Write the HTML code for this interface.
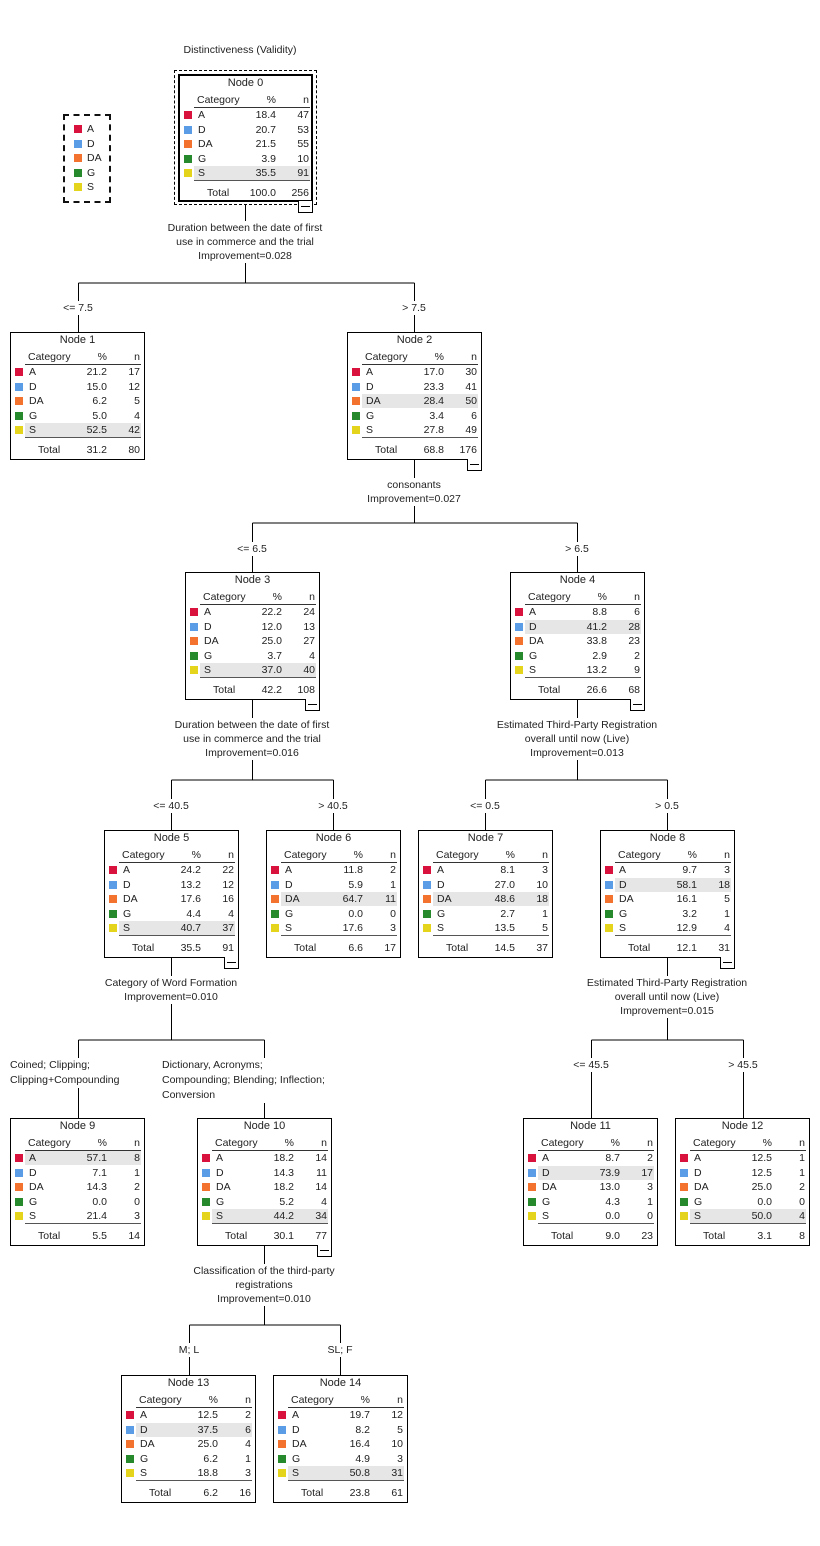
<!DOCTYPE html>
<html><head><meta charset="utf-8"><style>
body{margin:0;background:#fff;width:820px;height:1546px;position:relative;overflow:hidden;font-family:"Liberation Sans",sans-serif;font-size:10.5px;color:#222}
.n{position:absolute;width:135px;height:128px;box-sizing:border-box;border:1px solid #000;background:#fff}
.t{position:absolute;left:0;right:0;top:0;height:14px;line-height:14px;text-align:center;font-size:11px}
.h,.r,.tt{position:absolute;left:14px;width:116px;height:14px;line-height:14px}
.h{top:17px;border-bottom:1px solid #333}
.tt{top:104px;height:20px;line-height:24px;border-top:1px solid #555}
.r b,.h b,.tt b{position:absolute;left:4px;font-weight:normal}
.h b{left:3px}.tt b{left:13px}
.r s,.h s,.tt s{position:absolute;right:34px;text-decoration:none}
.r u,.h u,.tt u{position:absolute;right:1px;text-decoration:none}
.r i{position:absolute;left:-10px;top:3px;width:8px;height:8px}
.hl{background:#e6e6e6}
.r1{top:32px}.r2{top:46.5px}.r3{top:61px}.r4{top:75.5px}.r5{top:90px}
.cA{background:#d8123c}.cD{background:#5a9de6}.cDA{background:#f2722e}.cG{background:#268a2c}.cS{background:#e4d41c}
.m{position:absolute;width:13px;height:11px;border:1px solid #000;border-top:none;background:#fff}
.m:after{content:"";position:absolute;left:2px;right:2px;top:5px;border-top:1px solid #000}
.l{position:absolute;white-space:nowrap;background:#fff;line-height:14px;transform:translateX(-50%);text-align:center}
.la{position:absolute;white-space:nowrap;background:#fff;line-height:15px}
.lg{position:absolute;left:63px;top:114px;width:48px;height:89px;box-sizing:border-box;border:2px dashed #111}
.lg div{position:absolute;left:22px;line-height:14px}
.lg i{position:absolute;left:-13px;top:3px;width:8px;height:8px}
</style></head><body>
<svg width="820" height="1546" style="position:absolute;left:0;top:0" stroke="#000" stroke-width="1" fill="none" shape-rendering="crispEdges">
<path d="M245.5 204V283M78.5 283H414.5M78.5 283V332M414.5 283V332"/>
<path d="M414.5 459V523M252.5 523H577.5M252.5 523V572M577.5 523V572"/>
<path d="M252.5 699V780M171.5 780H333.5M171.5 780V830M333.5 780V830"/>
<path d="M577.5 699V780M485.5 780H667.5M485.5 780V830M667.5 780V830"/>
<path d="M171.5 957V1040M78.5 1040H264.5M78.5 1040V1118M264.5 1040V1118"/>
<path d="M667.5 957V1040M591.5 1040H743.5M591.5 1040V1118M743.5 1040V1118"/>
<path d="M264.5 1245V1325M189.5 1325H340.5M189.5 1325V1375M340.5 1325V1375"/>
</svg>
<div class="l" style="left:240px;top:43px">Distinctiveness (Validity)</div>
<div class="lg"><div style="top:6px"><i class="cA"></i>A</div><div style="top:21px"><i class="cD"></i>D</div><div style="top:35px"><i class="cDA"></i>DA</div><div style="top:50px"><i class="cG"></i>G</div><div style="top:64px"><i class="cS"></i>S</div></div>
<div style="position:absolute;left:174px;top:70px;width:143px;height:135px;box-sizing:border-box;border:1px dashed #000"></div>

<div class="n" style="left:178px;top:74px;border:2px solid #000"><div class="t">Node 0</div><div class="h"><b>Category</b><s>%</s><u>n</u></div>
<div class="r r1"><i class="cA"></i><b>A</b><s>18.4</s><u>47</u></div><div class="r r2"><i class="cD"></i><b>D</b><s>20.7</s><u>53</u></div><div class="r r3"><i class="cDA"></i><b>DA</b><s>21.5</s><u>55</u></div><div class="r r4"><i class="cG"></i><b>G</b><s>3.9</s><u>10</u></div><div class="r r5 hl"><i class="cS"></i><b>S</b><s>35.5</s><u>91</u></div><div class="tt"><b>Total</b><s>100.0</s><u>256</u></div></div>
<div class="m" style="left:298px;top:201px"></div>
<div class="l" style="left:245px;top:221px">Duration between the date of first<br>use in commerce and the trial<br>Improvement=0.028</div>
<div class="l" style="left:78px;top:301px">&lt;= 7.5</div><div class="l" style="left:414px;top:301px">&gt; 7.5</div>

<div class="n" style="left:10px;top:332px"><div class="t">Node 1</div><div class="h"><b>Category</b><s>%</s><u>n</u></div>
<div class="r r1"><i class="cA"></i><b>A</b><s>21.2</s><u>17</u></div><div class="r r2"><i class="cD"></i><b>D</b><s>15.0</s><u>12</u></div><div class="r r3"><i class="cDA"></i><b>DA</b><s>6.2</s><u>5</u></div><div class="r r4"><i class="cG"></i><b>G</b><s>5.0</s><u>4</u></div><div class="r r5 hl"><i class="cS"></i><b>S</b><s>52.5</s><u>42</u></div><div class="tt"><b>Total</b><s>31.2</s><u>80</u></div></div>

<div class="n" style="left:347px;top:332px"><div class="t">Node 2</div><div class="h"><b>Category</b><s>%</s><u>n</u></div>
<div class="r r1"><i class="cA"></i><b>A</b><s>17.0</s><u>30</u></div><div class="r r2"><i class="cD"></i><b>D</b><s>23.3</s><u>41</u></div><div class="r r3 hl"><i class="cDA"></i><b>DA</b><s>28.4</s><u>50</u></div><div class="r r4"><i class="cG"></i><b>G</b><s>3.4</s><u>6</u></div><div class="r r5"><i class="cS"></i><b>S</b><s>27.8</s><u>49</u></div><div class="tt"><b>Total</b><s>68.8</s><u>176</u></div></div>
<div class="m" style="left:467px;top:459px"></div>
<div class="l" style="left:414px;top:478px">consonants<br>Improvement=0.027</div>
<div class="l" style="left:252px;top:542px">&lt;= 6.5</div><div class="l" style="left:577px;top:542px">&gt; 6.5</div>

<div class="n" style="left:185px;top:572px"><div class="t">Node 3</div><div class="h"><b>Category</b><s>%</s><u>n</u></div>
<div class="r r1"><i class="cA"></i><b>A</b><s>22.2</s><u>24</u></div><div class="r r2"><i class="cD"></i><b>D</b><s>12.0</s><u>13</u></div><div class="r r3"><i class="cDA"></i><b>DA</b><s>25.0</s><u>27</u></div><div class="r r4"><i class="cG"></i><b>G</b><s>3.7</s><u>4</u></div><div class="r r5 hl"><i class="cS"></i><b>S</b><s>37.0</s><u>40</u></div><div class="tt"><b>Total</b><s>42.2</s><u>108</u></div></div>
<div class="m" style="left:305px;top:699px"></div>
<div class="l" style="left:252px;top:718px">Duration between the date of first<br>use in commerce and the trial<br>Improvement=0.016</div>

<div class="n" style="left:510px;top:572px"><div class="t">Node 4</div><div class="h"><b>Category</b><s>%</s><u>n</u></div>
<div class="r r1"><i class="cA"></i><b>A</b><s>8.8</s><u>6</u></div><div class="r r2 hl"><i class="cD"></i><b>D</b><s>41.2</s><u>28</u></div><div class="r r3"><i class="cDA"></i><b>DA</b><s>33.8</s><u>23</u></div><div class="r r4"><i class="cG"></i><b>G</b><s>2.9</s><u>2</u></div><div class="r r5"><i class="cS"></i><b>S</b><s>13.2</s><u>9</u></div><div class="tt"><b>Total</b><s>26.6</s><u>68</u></div></div>
<div class="m" style="left:630px;top:699px"></div>
<div class="l" style="left:577px;top:718px">Estimated Third-Party Registration<br>overall until now (Live)<br>Improvement=0.013</div>
<div class="l" style="left:171px;top:799px">&lt;= 40.5</div><div class="l" style="left:333px;top:799px">&gt; 40.5</div>
<div class="l" style="left:485px;top:799px">&lt;= 0.5</div><div class="l" style="left:667px;top:799px">&gt; 0.5</div>

<div class="n" style="left:104px;top:830px"><div class="t">Node 5</div><div class="h"><b>Category</b><s>%</s><u>n</u></div>
<div class="r r1"><i class="cA"></i><b>A</b><s>24.2</s><u>22</u></div><div class="r r2"><i class="cD"></i><b>D</b><s>13.2</s><u>12</u></div><div class="r r3"><i class="cDA"></i><b>DA</b><s>17.6</s><u>16</u></div><div class="r r4"><i class="cG"></i><b>G</b><s>4.4</s><u>4</u></div><div class="r r5 hl"><i class="cS"></i><b>S</b><s>40.7</s><u>37</u></div><div class="tt"><b>Total</b><s>35.5</s><u>91</u></div></div>
<div class="m" style="left:224px;top:957px"></div>

<div class="n" style="left:266px;top:830px"><div class="t">Node 6</div><div class="h"><b>Category</b><s>%</s><u>n</u></div>
<div class="r r1"><i class="cA"></i><b>A</b><s>11.8</s><u>2</u></div><div class="r r2"><i class="cD"></i><b>D</b><s>5.9</s><u>1</u></div><div class="r r3 hl"><i class="cDA"></i><b>DA</b><s>64.7</s><u>11</u></div><div class="r r4"><i class="cG"></i><b>G</b><s>0.0</s><u>0</u></div><div class="r r5"><i class="cS"></i><b>S</b><s>17.6</s><u>3</u></div><div class="tt"><b>Total</b><s>6.6</s><u>17</u></div></div>

<div class="n" style="left:418px;top:830px"><div class="t">Node 7</div><div class="h"><b>Category</b><s>%</s><u>n</u></div>
<div class="r r1"><i class="cA"></i><b>A</b><s>8.1</s><u>3</u></div><div class="r r2"><i class="cD"></i><b>D</b><s>27.0</s><u>10</u></div><div class="r r3 hl"><i class="cDA"></i><b>DA</b><s>48.6</s><u>18</u></div><div class="r r4"><i class="cG"></i><b>G</b><s>2.7</s><u>1</u></div><div class="r r5"><i class="cS"></i><b>S</b><s>13.5</s><u>5</u></div><div class="tt"><b>Total</b><s>14.5</s><u>37</u></div></div>

<div class="n" style="left:600px;top:830px"><div class="t">Node 8</div><div class="h"><b>Category</b><s>%</s><u>n</u></div>
<div class="r r1"><i class="cA"></i><b>A</b><s>9.7</s><u>3</u></div><div class="r r2 hl"><i class="cD"></i><b>D</b><s>58.1</s><u>18</u></div><div class="r r3"><i class="cDA"></i><b>DA</b><s>16.1</s><u>5</u></div><div class="r r4"><i class="cG"></i><b>G</b><s>3.2</s><u>1</u></div><div class="r r5"><i class="cS"></i><b>S</b><s>12.9</s><u>4</u></div><div class="tt"><b>Total</b><s>12.1</s><u>31</u></div></div>
<div class="m" style="left:720px;top:957px"></div>

<div class="l" style="left:171px;top:976px">Category of Word Formation<br>Improvement=0.010</div>
<div class="l" style="left:667px;top:976px">Estimated Third-Party Registration<br>overall until now (Live)<br>Improvement=0.015</div>
<div class="la" style="left:10px;top:1058px">Coined; Clipping;<br>Clipping+Compounding</div>
<div class="la" style="left:162px;top:1058px">Dictionary, Acronyms;<br>Compounding; Blending; Inflection;<br>Conversion</div>
<div class="l" style="left:591px;top:1058px">&lt;= 45.5</div><div class="l" style="left:743px;top:1058px">&gt; 45.5</div>

<div class="n" style="left:10px;top:1118px"><div class="t">Node 9</div><div class="h"><b>Category</b><s>%</s><u>n</u></div>
<div class="r r1 hl"><i class="cA"></i><b>A</b><s>57.1</s><u>8</u></div><div class="r r2"><i class="cD"></i><b>D</b><s>7.1</s><u>1</u></div><div class="r r3"><i class="cDA"></i><b>DA</b><s>14.3</s><u>2</u></div><div class="r r4"><i class="cG"></i><b>G</b><s>0.0</s><u>0</u></div><div class="r r5"><i class="cS"></i><b>S</b><s>21.4</s><u>3</u></div><div class="tt"><b>Total</b><s>5.5</s><u>14</u></div></div>

<div class="n" style="left:197px;top:1118px"><div class="t">Node 10</div><div class="h"><b>Category</b><s>%</s><u>n</u></div>
<div class="r r1"><i class="cA"></i><b>A</b><s>18.2</s><u>14</u></div><div class="r r2"><i class="cD"></i><b>D</b><s>14.3</s><u>11</u></div><div class="r r3"><i class="cDA"></i><b>DA</b><s>18.2</s><u>14</u></div><div class="r r4"><i class="cG"></i><b>G</b><s>5.2</s><u>4</u></div><div class="r r5 hl"><i class="cS"></i><b>S</b><s>44.2</s><u>34</u></div><div class="tt"><b>Total</b><s>30.1</s><u>77</u></div></div>
<div class="m" style="left:317px;top:1245px"></div>

<div class="n" style="left:523px;top:1118px"><div class="t">Node 11</div><div class="h"><b>Category</b><s>%</s><u>n</u></div>
<div class="r r1"><i class="cA"></i><b>A</b><s>8.7</s><u>2</u></div><div class="r r2 hl"><i class="cD"></i><b>D</b><s>73.9</s><u>17</u></div><div class="r r3"><i class="cDA"></i><b>DA</b><s>13.0</s><u>3</u></div><div class="r r4"><i class="cG"></i><b>G</b><s>4.3</s><u>1</u></div><div class="r r5"><i class="cS"></i><b>S</b><s>0.0</s><u>0</u></div><div class="tt"><b>Total</b><s>9.0</s><u>23</u></div></div>

<div class="n" style="left:675px;top:1118px"><div class="t">Node 12</div><div class="h"><b>Category</b><s>%</s><u>n</u></div>
<div class="r r1"><i class="cA"></i><b>A</b><s>12.5</s><u>1</u></div><div class="r r2"><i class="cD"></i><b>D</b><s>12.5</s><u>1</u></div><div class="r r3"><i class="cDA"></i><b>DA</b><s>25.0</s><u>2</u></div><div class="r r4"><i class="cG"></i><b>G</b><s>0.0</s><u>0</u></div><div class="r r5 hl"><i class="cS"></i><b>S</b><s>50.0</s><u>4</u></div><div class="tt"><b>Total</b><s>3.1</s><u>8</u></div></div>

<div class="l" style="left:264px;top:1264px">Classification of the third-party<br>registrations<br>Improvement=0.010</div>
<div class="l" style="left:189px;top:1343px">M; L</div><div class="l" style="left:340px;top:1343px">SL; F</div>

<div class="n" style="left:121px;top:1375px"><div class="t">Node 13</div><div class="h"><b>Category</b><s>%</s><u>n</u></div>
<div class="r r1"><i class="cA"></i><b>A</b><s>12.5</s><u>2</u></div><div class="r r2 hl"><i class="cD"></i><b>D</b><s>37.5</s><u>6</u></div><div class="r r3"><i class="cDA"></i><b>DA</b><s>25.0</s><u>4</u></div><div class="r r4"><i class="cG"></i><b>G</b><s>6.2</s><u>1</u></div><div class="r r5"><i class="cS"></i><b>S</b><s>18.8</s><u>3</u></div><div class="tt"><b>Total</b><s>6.2</s><u>16</u></div></div>

<div class="n" style="left:273px;top:1375px"><div class="t">Node 14</div><div class="h"><b>Category</b><s>%</s><u>n</u></div>
<div class="r r1"><i class="cA"></i><b>A</b><s>19.7</s><u>12</u></div><div class="r r2"><i class="cD"></i><b>D</b><s>8.2</s><u>5</u></div><div class="r r3"><i class="cDA"></i><b>DA</b><s>16.4</s><u>10</u></div><div class="r r4"><i class="cG"></i><b>G</b><s>4.9</s><u>3</u></div><div class="r r5 hl"><i class="cS"></i><b>S</b><s>50.8</s><u>31</u></div><div class="tt"><b>Total</b><s>23.8</s><u>61</u></div></div>
</body></html>
